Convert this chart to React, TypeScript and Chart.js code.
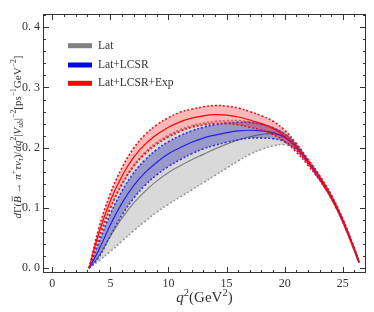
import React, { useEffect, useRef } from 'react';
import { Chart, registerables } from 'chart.js';
Chart.register(...registerables);

const q2 = [3.16, 4, 5, 6, 7, 8, 9, 10, 11, 12, 13, 14, 15, 16, 17, 18, 19, 20, 21, 22, 23, 24, 25, 26, 26.4];

const redCentral = [0, 0.058, 0.112, 0.153, 0.184, 0.206, 0.222, 0.234, 0.243, 0.249, 0.253, 0.255, 0.254, 0.251, 0.246, 0.24, 0.232, 0.219, 0.2, 0.176, 0.15, 0.119, 0.079, 0.031, 0.01];
const redUpper = [0, 0.066, 0.124, 0.167, 0.199, 0.222, 0.238, 0.25, 0.259, 0.264, 0.268, 0.27, 0.269, 0.266, 0.26, 0.253, 0.244, 0.229, 0.207, 0.181, 0.154, 0.122, 0.082, 0.033, 0.011];
const redLower = [0, 0.05, 0.1, 0.139, 0.169, 0.19, 0.206, 0.218, 0.227, 0.234, 0.238, 0.24, 0.24, 0.238, 0.234, 0.229, 0.222, 0.21, 0.193, 0.171, 0.146, 0.116, 0.076, 0.029, 0.009];

const blueCentral = [0, 0.03, 0.072, 0.108, 0.137, 0.159, 0.176, 0.19, 0.2, 0.209, 0.216, 0.221, 0.225, 0.228, 0.229, 0.228, 0.225, 0.217, 0.201, 0.177, 0.15, 0.119, 0.079, 0.031, 0.01];
const blueUpper = [0, 0.042, 0.09, 0.128, 0.158, 0.18, 0.197, 0.21, 0.22, 0.228, 0.234, 0.238, 0.241, 0.242, 0.242, 0.239, 0.233, 0.223, 0.205, 0.18, 0.153, 0.121, 0.081, 0.032, 0.011];
const blueLower = [0, 0.018, 0.054, 0.088, 0.116, 0.138, 0.155, 0.169, 0.18, 0.19, 0.198, 0.204, 0.209, 0.213, 0.216, 0.216, 0.215, 0.21, 0.196, 0.174, 0.147, 0.116, 0.077, 0.03, 0.009];

const grayCentral = [0, 0.02, 0.053, 0.083, 0.108, 0.128, 0.145, 0.159, 0.17, 0.18, 0.189, 0.198, 0.206, 0.213, 0.218, 0.222, 0.223, 0.218, 0.203, 0.178, 0.151, 0.119, 0.079, 0.031, 0.01];
const grayUpper = [0, 0.045, 0.1, 0.141, 0.171, 0.193, 0.209, 0.221, 0.23, 0.237, 0.241, 0.244, 0.245, 0.245, 0.243, 0.239, 0.233, 0.223, 0.205, 0.18, 0.153, 0.121, 0.081, 0.032, 0.011];
const grayLower = [0, 0.012, 0.028, 0.045, 0.062, 0.078, 0.093, 0.106, 0.118, 0.13, 0.142, 0.154, 0.166, 0.178, 0.189, 0.197, 0.203, 0.205, 0.198, 0.176, 0.149, 0.117, 0.077, 0.03, 0.009];

const xTicks = [0, 5, 10, 15, 20, 25];
const yTicks = [0, 0.1, 0.2, 0.3, 0.4];
const legendLabels = ['Lat', 'Lat+LCSR', 'Lat+LCSR+Exp'];
const legendColors = ['#808080', '#0000ff', '#ff0000'];

const SERIF = '"Liberation Serif"';

type Seg = { t: string; it?: boolean; pos?: 'sup' | 'sub'; bar?: boolean };

function drawRich(ctx: CanvasRenderingContext2D, segs: Seg[], cx: number, cy: number, base: number) {
  const fontFor = (s: Seg) => {
    const size = s.pos ? base * 0.7 : base;
    return `${s.it ? 'italic ' : ''}${size}px ${SERIF}`;
  };
  let total = 0;
  const widths = segs.map((s) => {
    ctx.font = fontFor(s);
    const w = ctx.measureText(s.t).width;
    total += w;
    return w;
  });
  let x = cx - total / 2;
  const baseY = cy + base * 0.35;
  ctx.textAlign = 'left';
  ctx.textBaseline = 'alphabetic';
  segs.forEach((s, i) => {
    ctx.font = fontFor(s);
    let y = baseY;
    if (s.pos === 'sup') y -= base * 0.4;
    if (s.pos === 'sub') y += base * 0.22;
    ctx.fillText(s.t, x, y);
    if (s.bar) {
      ctx.beginPath();
      ctx.lineWidth = 0.7;
      ctx.moveTo(x + 1.5, baseY - base * 0.78);
      ctx.lineTo(x + widths[i], baseY - base * 0.78);
      ctx.stroke();
    }
    x += widths[i];
  });
}

const yTitle: Seg[] = [
  { t: 'd', it: true }, { t: 'Γ' }, { t: '(' }, { t: 'B', it: true, bar: true }, { t: ' → ' },
  { t: 'π', it: true }, { t: '+', pos: 'sup' }, { t: 'τν', it: true }, { t: 'τ', it: true, pos: 'sub' },
  { t: ')/' }, { t: 'dq', it: true }, { t: '2', pos: 'sup' }, { t: '|' }, { t: 'V', it: true },
  { t: 'ub', it: true, pos: 'sub' }, { t: '|' }, { t: '−2', pos: 'sup' }, { t: '[ps' }, { t: '−1', pos: 'sup' },
  { t: 'GeV' }, { t: '−2', pos: 'sup' }, { t: ']' },
];
const xTitle: Seg[] = [
  { t: 'q', it: true }, { t: '2', pos: 'sup' }, { t: '(GeV' }, { t: '2', pos: 'sup' }, { t: ')' },
];

const deco = {
  id: 'deco',
  afterDraw(chart: any) {
    const { ctx, chartArea: a, scales } = chart;
    const x = scales.x;
    const y = scales.y;
    ctx.save();
    ctx.strokeStyle = '#333';
    ctx.lineWidth = 1;
    const line = (x1: number, y1: number, x2: number, y2: number) => {
      ctx.beginPath();
      ctx.moveTo(x1, y1);
      ctx.lineTo(x2, y2);
      ctx.stroke();
    };
    for (let v = 0; v <= 26; v++) {
      const px = Math.round(x.getPixelForValue(v)) + 0.5;
      const len = v % 5 === 0 ? 6 : 3;
      line(px, a.bottom, px, a.bottom - len);
      line(px, a.top, px, a.top + len);
    }
    for (let k = 0; k <= 21; k++) {
      const py = Math.round(y.getPixelForValue(k * 0.02)) + 0.5;
      const len = k % 5 === 0 ? 6 : 3;
      line(a.left, py, a.left + len, py);
      line(a.right, py, a.right - len, py);
    }
    ctx.strokeRect(a.left + 0.5, a.top + 0.5, a.right - a.left - 1, a.bottom - a.top - 1);

    // legend
    const ly = [45.7, 65, 83.3];
    legendLabels.forEach((lab, i) => {
      ctx.fillStyle = legendColors[i];
      ctx.fillRect(68, ly[i] - 2.5, 24, 5);
      ctx.fillStyle = '#333';
      ctx.font = `11.5px ${SERIF}`;
      ctx.textAlign = 'left';
      ctx.textBaseline = 'middle';
      ctx.fillText(lab, 98, ly[i]);
    });

    ctx.fillStyle = '#333';
    ctx.strokeStyle = '#333';
    drawRich(ctx, xTitle, (a.left + a.right) / 2, 297, 15);
    ctx.save();
    ctx.translate(17, 137);
    ctx.rotate(-Math.PI / 2);
    drawRich(ctx, yTitle, 0, 0, 11);
    ctx.restore();
    ctx.restore();
  },
};

export default function App() {
  const ref = useRef<HTMLCanvasElement>(null);
  useEffect(() => {
    document.body.style.margin = '0';
    const pts = (ys: number[]) => q2.map((x, i) => ({ x, y: ys[i] }));
    const models = [
      { c: grayCentral, u: grayUpper, l: grayLower, line: '#7f7f7f', dot: '#999999', fill: 'rgba(128,128,128,0.3)', order: 3 },
      { c: blueCentral, u: blueUpper, l: blueLower, line: '#2222ee', dot: '#3333ee', fill: 'rgba(20,20,170,0.32)', order: 2 },
      { c: redCentral, u: redUpper, l: redLower, line: '#ff0000', dot: '#ee1111', fill: 'rgba(255,0,0,0.28)', order: 1 },
    ];
    const datasets: any[] = [];
    models.forEach((m) => {
      const ui = datasets.length;
      const common = { pointRadius: 0, tension: 0.4 };
      datasets.push({ ...common, data: pts(m.u), borderColor: m.dot, borderWidth: 1.6, borderDash: [2, 2], fill: false, order: m.order + 0.5 });
      datasets.push({ ...common, data: pts(m.l), borderColor: m.dot, borderWidth: 1.6, borderDash: [2, 2], fill: ui, backgroundColor: m.fill, order: m.order + 0.5 });
      datasets.push({ ...common, data: pts(m.c), borderColor: m.line, borderWidth: 1.2, fill: false, order: m.order });
    });
    const chart = new Chart(ref.current!, {
      type: 'line',
      data: { datasets },
      options: {
        animation: false,
        responsive: false,
        layout: { padding: { top: 14, right: 8, left: 0, bottom: 0 } },
        plugins: { legend: { display: false }, tooltip: { enabled: false } },
        scales: {
          x: {
            type: 'linear', min: -0.8, max: 27,
            afterBuildTicks: (s: any) => { s.ticks = xTicks.map((v) => ({ value: v })); },
            afterFit: (s: any) => { s.height = 39; },
            ticks: { font: { family: 'Liberation Serif', size: 12 }, color: '#333', padding: 4, maxRotation: 0, autoSkip: false },
            grid: { display: false, drawTicks: false },
            border: { display: false },
          },
          y: {
            type: 'linear', min: -0.008, max: 0.422,
            afterBuildTicks: (s: any) => { s.ticks = yTicks.map((v) => ({ value: v })); },
            afterFit: (s: any) => { s.width = 43; },
            ticks: {
              font: { family: 'Liberation Serif', size: 12 }, color: '#333', padding: 3, autoSkip: false,
              callback: (v: any) => Number(v).toFixed(1).replace('.', '. '),
            },
            grid: { display: false, drawTicks: false },
            border: { display: false },
          },
        },
      } as any,
      plugins: [deco],
    });
    return () => chart.destroy();
  }, []);
  return (
    <div style={{ position: 'absolute', left: 0, top: 0, width: 374, height: 312 }}>
      <canvas ref={ref} width={374} height={312} style={{ width: 374, height: 312 }} />
    </div>
  );
}
